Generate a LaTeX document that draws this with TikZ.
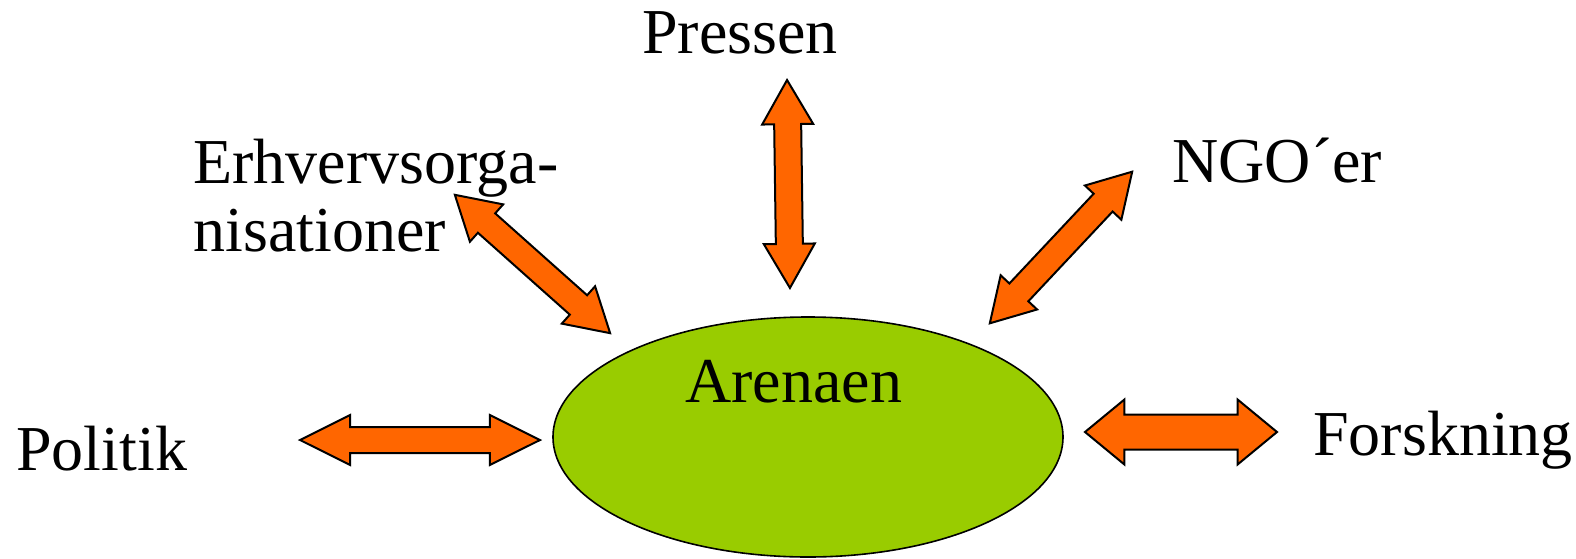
\documentclass[tikz,border=0pt]{standalone}
\usepackage{fontspec}
\setmainfont{Liberation Serif}
\usetikzlibrary{shapes.arrows,shapes.geometric,positioning}
\definecolor{arenagreen}{HTML}{99CC00}
\definecolor{arroworange}{HTML}{FF6600}

\begin{document}
\begin{tikzpicture}[x=0.5pt,y=-0.5pt,font=\fontsize{32}{34}\selectfont]

\tikzset{dblarrow/.style={shape=double arrow,fill=arroworange,draw=black,line width=1pt,inner xsep=0pt,inner ysep=6pt,double arrow head extend=6pt,double arrow tip angle=60,minimum height=104pt},
arenanode/.style={shape=ellipse,fill=arenagreen,draw=black,line width=0.8pt,minimum width=255pt,minimum height=120pt,inner sep=0pt},
lbl/.style={inner sep=0pt,anchor=base west,align=left}}

\useasboundingbox (0,0) rectangle (1576,558);

% Arena
\node[arenanode] (arena) at (808,437) {};
\node[lbl] (arenatxt) at (685,402) {Arenaen};

% Actors
\node[lbl] (pressen) at (642,53) {Pressen};
\node[lbl] (erhverv) at (193,251) {Erhvervsorga-\\nisationer};
\node[lbl] (ngo) at (1172,182) {NGO´er};
\node[lbl] (politik) at (16,470) {Politik};
\node[lbl] (forskning) at (1313,455) {Forskning};

% Double arrows
\node[dblarrow,minimum height=120pt,double arrow tip angle=53] (apolitik) at (420,440) {};
\node[dblarrow,minimum height=96pt,inner ysep=8.25pt,double arrow head extend=7.5pt,double arrow tip angle=79] (aforskning) at (1181,432) {};
\node[dblarrow,rotate=-89.2,inner ysep=6.25pt,double arrow tip angle=60] (apressen) at (788.5,184) {};
\node[dblarrow,rotate=-41.7,double arrow tip angle=61] (aerhverv) at (532.5,264) {};
\node[dblarrow,rotate=46.8,double arrow tip angle=61] (ango) at (1061,247.5) {};

\end{tikzpicture}
\end{document}
